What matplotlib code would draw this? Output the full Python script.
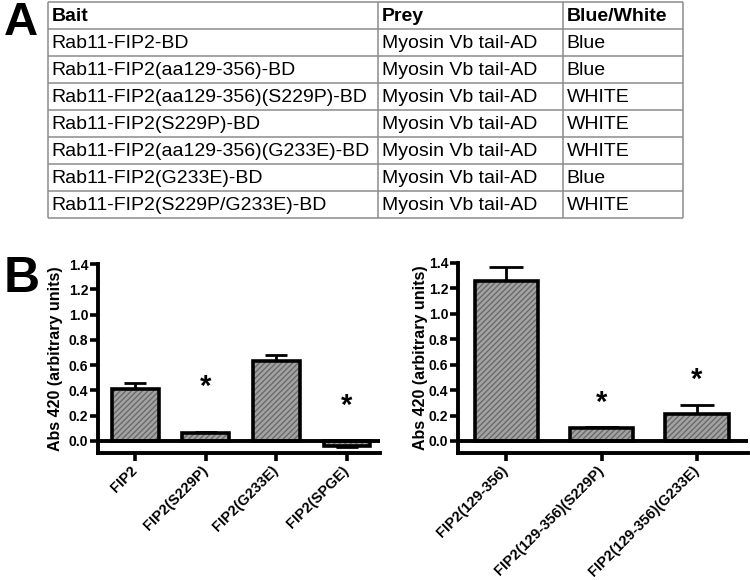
import matplotlib
matplotlib.use("Agg")
import matplotlib.pyplot as plt
import matplotlib.transforms as mtransforms
import numpy as np

plt.rcParams['font.family'] = ['Liberation Sans', 'DejaVu Sans']

# ---- Table data (panel A)
table_header = ["Bait", "Prey", "Blue/White"]
bait = ["Rab11-FIP2-BD", "Rab11-FIP2(aa129-356)-BD", "Rab11-FIP2(aa129-356)(S229P)-BD",
        "Rab11-FIP2(S229P)-BD", "Rab11-FIP2(aa129-356)(G233E)-BD", "Rab11-FIP2(G233E)-BD",
        "Rab11-FIP2(S229P/G233E)-BD"]
prey = ["Myosin Vb tail-AD"] * 7
color_result = ["Blue", "Blue", "WHITE", "WHITE", "WHITE", "Blue", "WHITE"]

# ---- Bar data (panel B)
left_cats = ["FIP2", "FIP2(S229P)", "FIP2(G233E)", "FIP2(SPGE)"]
left_vals = [0.41, 0.06, 0.63, -0.04]
left_err = [0.045, 0.01, 0.05, 0.01]
left_star = [None, 0.47, None, 0.32]

right_cats = ["FIP2(129-356)", "FIP2(129-356)(S229P)", "FIP2(129-356)(G233E)"]
right_vals = [1.255, 0.10, 0.21]
right_err = [0.11, 0.008, 0.07]
right_star = [None, 0.34, 0.52]

W, H = 750, 580
fig = plt.figure(figsize=(W / 100, H / 100), dpi=100)

# ---- Panel A table drawn in pixel coordinates
axt = fig.add_axes([0, 0, 1, 1])
axt.set_xlim(0, W)
axt.set_ylim(H, 0)
axt.axis('off')
col_x = [48, 378, 563, 683]
row_y = [2, 29, 56, 83, 110, 137, 164, 191, 218]
gc = '#8c8c8c'
for x in col_x:
    axt.plot([x, x], [row_y[0], row_y[-1]], color=gc, lw=1.1, solid_capstyle='butt')
for y in row_y:
    axt.plot([col_x[0], col_x[-1]], [y, y], color=gc, lw=1.1, solid_capstyle='butt')
pad = 3.5
for j, h in enumerate(table_header):
    axt.text(col_x[j] + pad, (row_y[0] + row_y[1]) / 2 + 1, h, fontsize=14,
             fontweight='bold', va='center', ha='left')
for i in range(len(bait)):
    yc = (row_y[i + 1] + row_y[i + 2]) / 2 + 1
    for j, val in enumerate([bait[i], prey[i], color_result[i]]):
        axt.text(col_x[j] + pad, yc, val, fontsize=14, va='center', ha='left')
axt.text(4, 23, "A", fontsize=34, fontweight='bold', va='center', ha='left')
axt.text(4, 279, "B", fontsize=36, fontweight='bold', va='center', ha='left')

STAR_FS = 21


def draw(ax, cats, vals, errs, stars, width, capsize, xlim, label_x):
    x = np.arange(len(cats))
    ax.bar(x, vals, width=width, color='#a3a3a3', hatch='//////', edgecolor='#6a6a6a',
           linewidth=0, zorder=2)
    ax.bar(x, vals, width=width, fill=False, edgecolor='black', linewidth=2.6, zorder=3)
    yerr_lo = [0 if v >= 0 else e for v, e in zip(vals, errs)]
    yerr_hi = [e if v >= 0 else 0 for v, e in zip(vals, errs)]
    ax.errorbar(x, vals, yerr=[yerr_lo, yerr_hi], fmt='none', ecolor='black',
                elinewidth=2, capsize=capsize, capthick=2, zorder=1)
    ax.axhline(0, color='black', lw=2.8, zorder=4)
    star_tr = mtransforms.offset_copy(ax.transData, fig=fig, y=-0.45 * STAR_FS, units='points')
    for xi, s in zip(x, stars):
        if s is not None:
            ax.text(xi, s, "*", fontsize=STAR_FS, fontweight='bold', ha='center',
                    va='baseline', transform=star_tr)
    ax.set_xlim(*xlim)
    ax.set_ylim(-0.095, 1.4)
    ax.set_yticks(np.arange(0, 1.41, 0.2))
    ax.set_yticklabels([f"{t:.1f}" for t in np.arange(0, 1.41, 0.2)],
                       fontsize=10, fontweight='bold')
    ax.set_xticks(x)
    ax.set_xticklabels(cats, rotation=45, ha='right', va='center', rotation_mode='anchor',
                       fontsize=10.5, fontweight='bold')
    ax.spines['top'].set_visible(False)
    ax.spines['right'].set_visible(False)
    ax.spines['left'].set_linewidth(2.8)
    ax.spines['bottom'].set_linewidth(2.8)
    ax.tick_params(axis='both', width=2.6, length=6, direction='out')
    ax.tick_params(axis='y', pad=1)
    ax.tick_params(axis='x', pad=5)
    ax.set_ylabel("Abs 420 (arbitrary units)", fontsize=11.5, fontweight='bold')
    ax.yaxis.label.set_verticalalignment('center')
    ax.yaxis.set_label_coords(label_x, 0.5)


axl = fig.add_axes([98 / W, 1 - 453 / H, 282 / W, (453 - 264) / H])
draw(axl, left_cats, left_vals, left_err, left_star, 0.665, 8, (-0.524, 3.467), -0.152)
axr = fig.add_axes([458 / W, 1 - 453 / H, 290 / W, (453 - 263) / H])
draw(axr, right_cats, right_vals, right_err, right_star, 0.66, 12, (-0.503, 2.534), -0.131)

fig.savefig("out.png", dpi=100)
